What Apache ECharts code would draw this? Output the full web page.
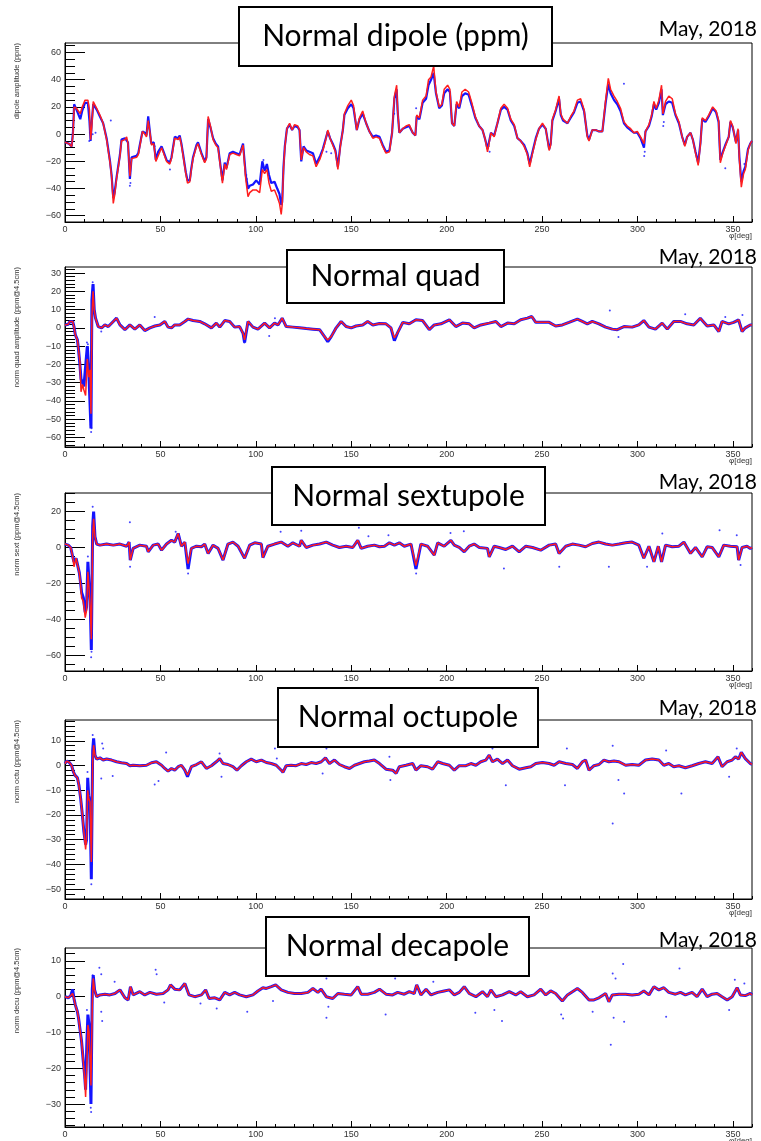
<!DOCTYPE html>
<html>
<head>
<meta charset="utf-8">
<script src="https://cdn.jsdelivr.net/npm/echarts@6/dist/echarts.min.js"></script>
<style>
html,body{margin:0;padding:0;background:#fff;}
#main{width:761px;height:1141px;}
</style>
</head>
<body>
<div id="main"></div>
<script>
// x ticks (deg)
var phiTicks = [0,50,100,150,200,250,300,350];

// ---- dipole ----
var dipPhi = [0,2,3.5,4.2,4.8,6,7,8,9,10.5,
  12,12.8,13.4,14,14.8,16.6,18.3,20,21.8,23.5,
  24.4,25.3,26,27,28.8,29.6,31.4,32.3,33,34,
  34.9,35.7,37.5,38.4,39.2,40.6,41.8,42.7,43.6,44.2,
  45,45.3,46.5,47.6,48.8,50.6,51.4,53.2,54.9,55.8,
  57.5,59.3,60.1,61,61.9,63.3,64.2,65.4,66.2,67.1,
  68.9,69.7,71.5,73.2,74.1,75,75.6,76.2,77.6,79,
  80.2,81,82.5,83.7,84.6,86.3,88,89.8,91.5,93.3,
  94.1,94.7,95.9,96.8,98.5,100.2,102,103.4,104.6,105.8,
  106.9,108.1,109.8,111.2,112.4,113.3,113.8,114.5,115.2,116.3,
  117.7,119,120.3,122,122.9,123.8,125,126.4,128.1,129.9,
  131.6,132.5,133.7,135.1,136.5,137.7,138.9,140.3,141.7,143,
  144.2,145.6,146.4,148.2,150,151.2,152.9,154.3,156,157.8,
  159.5,161.3,163,164.8,166.5,168.2,170,171.4,172.6,173.8,
  174.3,175.2,177,178.7,180.4,182.2,183.6,184.3,185.7,187.4,
  189.2,190.5,191.8,193.2,194.4,196.1,197.5,198.7,200.5,201.7,
  202.8,204,205.2,206.6,208,209.7,211.5,213.2,215,217,
  218.8,220.2,221.4,223.2,224.9,226.6,228.4,230.1,231.9,233.6,
  235.4,237.1,238.8,240.6,242.3,243.5,245,246.7,248.4,250.2,
  251.9,253.7,254.5,255.4,257.1,258.9,259.8,261,263.3,265,
  266.7,268.5,270.2,272,273.7,274.6,276.3,278.1,279.8,281.6,
  283.3,284.7,285.9,287.7,289.4,291.1,292.9,294.6,296.4,298.1,
  299.9,301.6,303.4,304.2,306,307.4,308.6,309.8,311.2,312.6,
  313.3,314.7,316.4,318.2,319.9,321.7,323.4,324.8,326,327.8,
  329,330.4,331.8,333,333.9,335.6,337.3,339.4,341.2,342.5,
  343.4,344.7,346,347.8,348.7,349.9,351.6,352.7,353.4,354.4,
  355.6,356.5,357.9,359.1,360];
var dipRed = [-6,-7,-9,0,20,19,20,15,20,25,
  25,18,-4,5,24,19,14,8,-4,-20,
  -31,-51,-45,-33,-16,-5,-4,-2,-7,-31,
  -18,-19,-17,-15,-9,2,0,-2,10,11,
  -4,-8,-7,-20,-16,-10,-13,-20,-22,-18,
  -3,-4,-2,-8,-16,-29,-36,-35,-26,-18,
  -9,-7,-15,-21,-18,13,14,6,-4,-8,
  -10,-19,-36,-22,-26,-15,-14,-15,-16,-8,
  -9,-33,-46,-43,-41,-41,-43,-26,-29,-26,
  -36,-42,-41,-46,-51,-59,-52,-26,-10,4,
  8,3,7,6,3,-19,-10,-13,-15,-16,
  -24,-24,-18,-12,-5,3,-3,-8,-13,-26,
  -10,3,15,21,25,21,3,12,17,8,
  2,-3,-2,-3,-9,-14,-13,1,28,36,
  18,1,4,6,7,1,-1,14,12,25,
  28,40,42,50,31,20,22,33,36,33,
  8,6,24,20,31,33,31,23,13,6,
  3,-4,-13,1,-2,8,19,22,19,11,
  7,-3,-5,-9,-15,-24,-14,-4,4,8,
  4,-12,-8,11,18,28,15,11,8,13,
  17,25,26,18,-2,-5,3,3,2,2,
  25,41,33,28,24,19,9,6,4,1,
  2,-2,-7,2,7,14,24,19,25,36,
  15,24,28,26,15,9,-2,-9,-2,1,
  -4,-14,-23,-7,12,10,14,20,17,10,
  -21,-14,-9,-2,10,6,-7,4,-19,-39,
  -29,-26,-12,-7,-5];
var dipBlue = [-6,-7,-9,2,22,18,18,11,17,23,
  23,10,-5,8,22,18,13,8,-3,-19,
  -30,-47,-43,-32,-15,-4,-3,-2,-6,-33,
  -17,-17,-16,-14,-8,2,1,-1,13,13,
  -5,-7,-6,-19,-13,-9,-12,-19,-21,-17,
  -2,-3,-1,-7,-15,-28,-34,-34,-25,-17,
  -8,-6,-14,-20,-17,11,12,5,-3,-7,
  -9,-18,-34,-21,-25,-14,-13,-14,-15,-7,
  -8,-30,-40,-38,-37,-34,-37,-20,-27,-22,
  -30,-36,-35,-40,-44,-52,-50,-24,-9,4,
  7,3,6,5,3,-20,-9,-12,-13,-14,
  -22,-22,-16,-11,-4,2,-3,-7,-12,-24,
  -9,3,14,19,22,19,3,11,15,8,
  2,-2,-1,-2,-8,-13,-12,1,26,33,
  17,1,4,5,6,1,-1,13,11,23,
  26,36,40,45,30,19,21,30,33,31,
  8,6,22,19,28,30,29,21,12,6,
  3,-4,-11,1,-1,8,18,20,18,10,
  6,-3,-5,-8,-14,-22,-13,-3,4,7,
  4,-11,-7,10,17,26,14,10,8,12,
  16,23,24,17,-1,-4,3,3,2,2,
  23,37,30,25,22,17,8,5,3,1,
  1,-3,-10,2,6,13,22,18,23,33,
  14,22,24,23,14,8,-2,-8,-2,1,
  -4,-13,-21,-6,11,9,13,19,16,9,
  -19,-13,-8,-2,9,5,-6,3,-17,-35,
  -27,-24,-11,-7,-5];
var dipStray = [[12.7,-5],[13,1],[14.5,0],[16,1],[24,10],[34,-38],[34.3,-36],[47,-9],[55,-26],
  [95,-30],[95.3,-33],[104,-19],[137,-13],[139.5,-14],[172.5,15],[184,19],[222,-9],[222.5,-13],
  [292.9,37],[303.5,-16],[303.8,-13],[313.5,6],[313.8,9],[346,-25],[356,-22]];

// ---- quad ----
var quadPhi = [0,0.9,1.7,2.6,4,4.7,5.4,6.5,7.1,7.8,
  8.4,9.2,9.9,10.8,11.7,12.4,13.1,13.6,14.1,14.7,
  15.3,16,17.4,19.2,20.9,22.7,25.3,27,28.8,31.4,
  34,36.6,39.2,41.8,44.5,47.1,49.7,52.3,54,55.8,
  57.5,60.1,62.8,64.5,67.1,70.6,73.2,76.7,79.3,81.1,
  83.7,86.3,88.9,91.5,93.3,94.1,95.9,98.5,101.1,104.6,
  107.2,109.8,111.6,113.8,115.9,119.4,122.9,126.4,129.9,133.4,
  136,137.7,139.5,142.1,144.7,147.3,150,152.5,156,158.6,
  161.3,164.8,168.2,170.8,172.6,174.3,177,180.4,183.9,187.4,
  190.9,193.5,197,201.4,204.8,208.3,211.8,214.4,217.9,222.3,
  225.8,228.4,231.9,235.4,238.8,242.3,244.6,246.7,250.2,253.7,
  257.1,260.6,264.1,268.5,271.1,273.7,276.3,279.8,283.3,286.8,
  289.4,292.9,297.2,300.7,303.3,306,309.4,312.9,315.6,319,
  322.5,326,329.5,332.9,336.5,340,342.6,344.3,347.8,350.4,
  353,354.8,356.5,359.1,360];
var quadRed = [1.6,1,2,3.5,3.5,0.7,-3.8,-6.6,-12,-18.5,
  -35,-31,-34,-37,-17,-27,-23,-47,6,20,
  10,5.3,0.7,0,1.6,0.7,3.5,5.3,1.6,-1,
  1.6,-0.7,1.6,-1.5,0,1,1.6,3.5,0.4,0,
  1.6,1.6,3.5,4.8,4,3.5,2.2,0,2.6,0.4,
  4,3.5,0.4,0.7,-3,-6.6,3.5,0.4,-0.7,2.6,
  0,2.6,1.6,5.3,0.7,0.4,0,-0.4,-0.7,-1,
  -4.8,-6.6,-4.8,0,3.5,0.7,0,1,1.6,3.5,
  1.6,2.4,2.2,0,-5.5,-2.6,3,2.2,4.4,4,
  -1,1.6,2.2,4.4,0.7,2.6,2.2,0,1.6,2.6,
  3.5,0.7,2.6,2.2,4.4,5.3,6.2,3,3,3,
  1,1.6,3,4.8,3.5,2.2,3.5,2.2,0.4,-0.7,
  -1,0.7,0.4,1.6,4,0.4,-0.7,2.6,-0.7,3.5,
  3.5,2.2,1.6,5.3,1,1.6,-2,3.5,2.2,3,
  4.4,-2,0,1.6,1.5];
var quadBlue = [1.6,1,2,3.5,3.5,0.7,-3.8,-6.6,-12,-20,
  -28,-29,-32,-33,-10,-22,-22,-55,15,24,
  10,5.3,0.7,0,1.6,0.7,3.5,5.3,1.6,-1,
  1.6,-0.7,1.6,-1.5,0,1,1.6,3.5,0.4,0,
  1.6,1.6,3.5,4.8,4,3.5,2.2,0,2.6,0.4,
  4,3.5,0.4,0.7,-3,-8,3.5,0.4,-0.7,2.6,
  0,2.6,1.6,5.3,0.7,0.4,0,-0.4,-0.7,-1,
  -4.8,-7.5,-4.8,0,3.5,0.7,0,1,1.6,3.5,
  1.6,2.4,2.2,0,-7,-2.6,3,2.2,4.4,4,
  -1,1.6,2.2,4.4,0.7,2.6,2.2,0,1.6,2.6,
  3.5,0.7,2.6,2.2,4.4,5.3,6.2,3,3,3,
  1,1.6,3,4.8,3.5,2.2,3.5,2.2,0.4,-0.7,
  -1,0.7,0.4,1.6,4,0.4,-0.7,2.6,-0.7,3.5,
  3.5,2.2,1.6,5.3,1,1.6,-2,3.5,2.2,3,
  4.4,-2,0,1.6,1.5];
var quadStray = [[11.5,-8],[11.8,-12],[12,-9],[13.4,-50],[13.5,-53],[13.7,-57],[13.9,-55],[14.5,25],[14.6,23],
  [19,-2],[47,6],[94,-8],[107,-4.4],[110,5.3],[285.5,9.5],[290,-5],[325,7.5],[346,6],[355,7]];

// ---- sextupole ----
var sextPhi = [0,1.7,3,4,4.7,5.8,6.6,7.5,8.2,8.7,
  9.6,10.6,11.3,12,12.6,13.2,13.8,14.5,15,15.7,
  16.6,18.3,21.8,25.3,28.8,32.3,33.6,34.2,35.7,39.2,
  42.7,43.6,46.2,48.8,50.6,53.2,55.8,57.5,59.3,61,
  62.8,64.5,66.2,68.9,71.5,73.2,75,77.6,80.2,82.8,
  85.4,88,90.7,94.1,96.8,99.4,102.9,103.7,106.3,109.8,
  113.3,116.8,119.4,122.9,123.8,126.4,129.9,133.4,136.9,140.3,
  143.8,147.3,150.8,153.4,155.2,158.6,162.1,164.8,167.4,170,
  172.6,175.2,177.8,181.3,183.9,186.5,190,193.5,195.3,198.7,
  202.2,204,206.6,209.2,211.8,214.4,217.1,221.4,222.3,224.9,
  227.5,231,234.5,238,241.5,245,249.3,253.7,257.1,258.9,
  262.4,265.9,269.4,272.8,276.3,279.8,283.3,286.8,290.3,293.8,
  297.2,300.7,303.3,306,308.6,310.9,312.6,314.7,318.2,321.7,
  324.3,327.8,330.4,333.9,336.5,339.1,342.6,345.2,348.7,352.2,
  353,354.8,357.4,359.1,360];
var sextRed = [1.9,1.3,0,-5,-10.7,-6,-6.7,-14,-21,-28,
  -30,-39,-35,-13.5,-22.8,-33,-51,6,16,6,
  1.9,1.3,1.9,1.3,1.9,0.7,3,-7,-0.5,1.3,
  0.7,-2.4,1.3,1.9,-1.5,1.9,4,3,7.8,0.7,
  3,-9,-0.5,0.7,0.4,1.9,-3.3,1.3,-0.5,-7,
  1.9,3,0.7,-6,1.3,2.6,1.9,-5.6,0.7,1.9,
  3,0.7,2.6,0.7,4,0,1.3,1.9,3,1.3,
  0,0.7,0,4,-0.5,0.7,1.3,0.4,0.7,2.6,
  1.3,2.6,0.7,1.9,-10,1.9,0.7,-4.3,2.6,0.7,
  4,1.3,0,-2.4,0.7,1.9,0,-0.5,-5.2,0.7,
  0,-1.1,0.7,-2.4,0.7,0,-1.5,1.3,1.9,-3.3,
  0.7,1.9,1.3,0.4,2.2,3,1.9,1.3,1.9,2.6,
  3,1.3,-6,0.7,-8,0.7,-8,1.3,0.4,0.7,
  3,-3.3,0,-5.2,0.4,0,-5.2,1.3,0.7,0.4,
  -7,0,0.7,-0.5,0];
var sextBlue = [1.9,1.3,0,-5,-8,-6,-6.7,-14,-20,-25,
  -28,-36,-33,-8,-20,-30,-57,12,20,6,
  1.9,1.3,1.9,1.3,1.9,0.7,3,-7,-0.5,1.3,
  0.7,-2.4,1.3,1.9,-1.5,1.9,4,3,7.8,0.7,
  3,-12,-0.5,0.7,0.4,1.9,-3.3,1.3,-0.5,-7,
  1.9,3,0.7,-6,1.3,2.6,1.9,-5.6,0.7,1.9,
  3,0.7,2.6,0.7,4,0,1.3,1.9,3,1.3,
  0,0.7,0,4,-0.5,0.7,1.3,0.4,0.7,2.6,
  1.3,2.6,0.7,1.9,-12,1.9,0.7,-4.3,2.6,0.7,
  4,1.3,0,-2.4,0.7,1.9,0,-0.5,-5.2,0.7,
  0,-1.1,0.7,-2.4,0.7,0,-1.5,1.3,1.9,-3.3,
  0.7,1.9,1.3,0.4,2.2,3,1.9,1.3,1.9,2.6,
  3,1.3,-6,0.7,-8,0.7,-8,1.3,0.4,0.7,
  3,-3.3,0,-5.2,0.4,0,-5.2,1.3,0.7,0.4,
  -7,0,0.7,-0.5,0];
var sextStray = [[12,-5],[13.7,-61],[13.9,-58],[14.5,22.6],[34,14],[34.1,-10.7],[58,8.7],[64.5,-14.5],
  [113,8.7],[123.8,9.3],[154,11],[159,6.3],[169.5,6.8],[184,-14.5],[202,8],[209,9],[230,-11.7],
  [259,-10.7],[285,-10.7],[305,-10.7],[313,7.8],[343,9.6],[352,6.8],[354,-9.8]];

// ---- octupole ----
var octPhi = [0,0.9,2.3,3.5,4.4,5.2,6.5,7.3,8.2,9.1,
  9.9,10.8,11.3,11.9,12.4,13.1,13.8,14.5,15,15.7,
  16.6,18.3,20,21.8,24.4,27,29.6,32.3,34,35.7,
  39.2,42.7,45.3,47.9,50.6,52.3,54,55.8,57.5,59.3,
  61,62.8,64.2,66.2,68.9,71.5,74.1,76.7,79.3,81.1,
  82.8,85.4,88,90.1,92.4,95,97.6,100.2,102.9,105.5,
  108.1,110.7,113.3,114.2,115.9,118.5,121.1,123.8,126.4,129,
  131.6,134.3,136.5,138.6,141.2,143.8,146.4,149.1,151.7,154.3,
  156.9,159.5,162.1,164.8,168.2,171.7,173.5,175.2,178.7,182.2,
  183.9,186.5,190,192.6,195.3,197.9,201.4,204,206.6,210.1,
  212.7,215.3,217.9,220.5,222.3,224,226.6,229.3,231.9,234.5,
  238,241.5,244.1,246.7,250.2,253.7,256.3,258.9,262.4,265.9,
  268.5,271.1,272.8,274.6,277.2,279.8,282.4,285,287.7,290.3,
  293.8,297.2,300.7,304.2,307.7,311.2,313.8,316.4,319,321.7,
  325.1,328.6,332.1,335.6,339.1,342.2,344.3,347,349.6,351.3,
  353,354.4,356.5,359.1,360];
var octRed = [0.8,1.8,1.2,-0.1,-2.6,-3.9,-5,-8,-13.3,-20,
  -26.8,-34,-29.5,-10,-13.3,-14.7,-39,1.5,8.2,4.2,
  2.6,3.1,2.2,2.6,2.2,1.5,1.1,0.8,-0.1,0.1,
  -0.1,0.1,1.1,1.5,0.1,-1.2,-2.3,-1.2,-1.9,-0.5,
  0.1,-1.9,-3.9,-0.5,0.4,1.5,-1.2,-0.1,1.5,2.8,
  0.8,0.4,-0.5,-1.9,-0.1,1.5,2.6,1.5,2.2,1.2,
  0.8,0.1,-1.9,-2.8,-0.1,0.1,-0.1,0.8,0.4,1.2,
  0.8,1.5,3.1,0.8,2.2,0.4,-0.5,-1.2,0.1,0.8,
  1.5,1.8,2.2,0.8,-1.5,-1.9,-3.2,-0.5,0.1,0.8,
  -1.9,-0.1,-0.5,-1.5,1.5,0.8,0.1,-1.9,-0.1,-0.1,
  0.8,0.1,1.5,2.2,4.2,1.5,2.6,0.8,2.2,-0.1,
  -1.5,-0.9,-0.5,0.8,1.2,0.8,0.1,1.5,0.8,0.4,
  -1.2,1.5,2.2,-1.9,-0.1,0.4,2.2,1.5,1.8,1.5,
  0.1,0.4,0.1,2.2,2.6,2.2,0.1,0.8,-0.5,-0.1,
  -0.9,-0.1,0.8,1.5,0.8,3.5,-0.5,1.5,2.2,3.5,
  2.6,5.3,2.8,0.8,0.5];
var octBlue = [0.8,1.8,1.2,-0.1,-2.6,-3.9,-5,-8,-13.3,-20,
  -26.8,-32,-30,-5,-12,-15,-46,6,11,4.2,
  2.6,3.1,2.2,2.6,2.2,1.5,1.1,0.8,-0.1,0.1,
  -0.1,0.1,1.1,1.5,0.1,-1.2,-2.3,-1.2,-1.9,-0.5,
  0.1,-1.9,-4.5,-0.5,0.4,1.5,-1.2,-0.1,1.5,2.8,
  0.8,0.4,-0.5,-1.9,-0.1,1.5,2.6,1.5,2.2,1.2,
  0.8,0.1,-1.9,-2.8,-0.1,0.1,-0.1,0.8,0.4,1.2,
  0.8,1.5,3.1,0.8,2.2,0.4,-0.5,-1.2,0.1,0.8,
  1.5,1.8,2.2,0.8,-1.5,-1.9,-3.2,-0.5,0.1,0.8,
  -1.9,-0.1,-0.5,-1.5,1.5,0.8,0.1,-1.9,-0.1,-0.1,
  0.8,0.1,1.5,2.2,4.2,1.5,2.6,0.8,2.2,-0.1,
  -1.5,-0.9,-0.5,0.8,1.2,0.8,0.1,1.5,0.8,0.4,
  -1.2,1.5,2.2,-1.9,-0.1,0.4,2.2,1.5,1.8,1.5,
  0.1,0.4,0.1,2.2,2.6,2.2,0.1,0.8,-0.5,-0.1,
  -0.9,-0.1,0.8,1.5,0.8,3.5,-0.5,1.5,2.2,3.5,
  2.6,5.3,2.8,0.8,0.5];
var octStray = [[11.8,-2.6],[13.6,-43],[13.8,-48],[14.5,12.3],[19,-5.3],[19.5,8.9],[20,6.9],[25,-4.2],
  [47,-7.7],[49,-6.3],[53,5.3],[81,4.9],[82,-4.6],[110,6.9],[111,2.8],[135,-3.2],[137,6.9],
  [170,3.5],[170.5,-5.9],[224,6.9],[231,-8],[262,-8],[263,6.9],[287,8],[287,-23.5],[290,-5.9],
  [293,-11.3],[315,6.1],[323,-11.3],[348,-4.6],[352,6.9]];

// ---- decapole ----
var decPhi = [0,1.7,3,4,4.7,5.4,6.5,7.1,7.8,8.7,
  9.6,10.3,10.8,11.5,12,12.6,13.1,13.6,14.3,14.8,
  15.5,16.6,18.3,20.9,23.5,26.2,28.8,31.4,33.1,34.3,
  35.7,39.2,41.8,44.5,47.9,51.4,54,55.3,57.5,60.1,
  62.8,63.6,65,68,71.5,73.7,75.5,78.5,81.1,83.7,
  86.3,88.9,91.5,95,98.5,101.1,103.7,105.5,108.1,110.4,
  113.3,116.8,120.3,123.8,127.3,129.9,132.5,134.2,136.9,140.3,
  143,146.4,150,153.4,155.2,158.6,162.1,164.8,168.2,171.7,
  174.3,177.8,180.4,183,184.3,186.5,189.2,191.8,195.3,198.7,
  201.4,204,206.6,209.2,211.8,215.3,218.8,221.4,223.2,225.8,
  229.3,232.8,236.2,238.8,242.3,245.8,249.3,251.9,254.5,257.1,
  260.6,263.3,265.9,268.5,271.1,274.6,277.2,279.8,283.3,285,
  286.8,290.3,293.8,297.2,300.7,303.3,306,308.6,311.2,313.8,
  316.4,319.9,322.5,325.1,328.6,331.2,333.9,336.5,339.1,341.7,
  344.3,347,349.6,352.2,353.9,356.5,359.1,360];
var decRed = [0,-0.3,0.3,0.9,-0.5,-2.3,-4.2,-6,-8.9,-12.6,
  -18.2,-22.9,-28,-18.2,-7.9,-9.8,-9.3,-24.8,-2.3,5.1,
  1.9,0,0.5,0.7,0.5,0.9,1.9,-0.3,-0.9,2.8,
  0.5,1.4,0.5,1.2,0.7,0.9,1.9,3.3,2.1,1.9,
  3.7,4.2,0.5,0,0.5,1.9,-0.5,-0.3,-0.9,1.2,
  0.5,1.2,0.5,0,0.5,1.6,2.5,2.3,2.8,3.3,
  1.9,1.2,0.9,0.9,1.2,2.3,1.2,2.1,0,-0.5,
  0.9,0.7,0.5,2.8,0.7,0.7,1.2,2.1,0.7,0.5,
  1.2,0.7,1.4,0.9,3.3,0.5,2.1,0.5,1.2,1.6,
  1.9,0.5,1.2,2.8,0.9,0,1.4,0,1.9,0,
  0.5,1.4,0.5,1.4,0,0.5,2.1,0.5,1.6,0.9,
  -1.2,0.5,1.4,2.3,1.2,-0.9,-0.9,-0.3,0.9,-1.4,
  0.5,0.7,0.7,0.5,0.7,1.6,0.5,2.8,1.9,2.5,
  1.2,0.7,1.2,0.5,1.2,0,2.1,0,0.7,0.9,
  0,-0.9,0,2.5,0.5,0.3,0.9,0.5];
var decBlue = [0,-0.3,0.3,2,-0.5,-2.3,-4.2,-6,-8.9,-12.6,
  -18.2,-22,-26,-12,-5,-8,-8,-30,2,6,
  1.9,0,0.5,0.7,0.5,0.9,1.9,-0.3,-0.9,2.8,
  0.5,1.4,0.5,1.2,0.7,0.9,1.9,3.3,2.1,1.9,
  3.7,4.2,0.5,0,0.5,1.9,-0.5,-0.3,-0.9,1.2,
  0.5,1.2,0.5,0,0.5,1.6,2.5,2.3,2.8,3.3,
  1.9,1.2,0.9,0.9,1.2,2.3,1.2,2.1,0,-0.5,
  0.9,0.7,0.5,2.8,0.7,0.7,1.2,2.1,0.7,0.5,
  1.2,0.7,1.4,0.9,3.3,0.5,2.1,0.5,1.2,1.6,
  1.9,0.5,1.2,2.8,0.9,0,1.4,0,1.9,0,
  0.5,1.4,0.5,1.4,0,0.5,2.1,0.5,1.6,0.9,
  -1.2,0.5,1.4,2.3,1.2,-0.9,-0.9,-0.3,0.9,-1.4,
  0.5,0.7,0.7,0.5,0.7,1.6,0.5,2.8,1.9,2.5,
  1.2,0.7,1.2,0.5,1.2,0,2.1,0,0.7,0.9,
  0,-0.9,0,2.5,0.5,0.3,0.9,0.5];
var decStray = [[11.5,-3.7],[13.5,-31],[13.7,-32.2],[14.5,6],[18,8.1],[19,6.3],[19,-4.2],[19.5,-6.8],
  [26,4.2],[47.5,7.5],[48,6.3],[52,-1.6],[71,-1.9],[79.5,-3.3],[95.5,-4.2],[109,-1.2],[111,7],
  [137,5.1],[137,-5.9],[138,-2.8],[168,-5],[173,5.1],[193,4.2],[215,-4.5],[225,-3.7],[229,-6.8],
  [260,-5],[261,-6.1],[276.5,-4.2],[286,-13.4],[287,6.5],[287.5,-5.9],[288.5,5.1],[292.5,9.1],
  [293,-7],[315,-5.6],[322,7.9],[348,-3.7],[351,4.7],[356,3.7]];

// y tick labels per panel
var dipTicks = [-60,-40,-20,0,20,40,60];
var quadTicks = [-60,-50,-40,-30,-20,-10,0,10,20,30];
var sextTicks = [-60,-40,-20,0,20];
var octTicks = [-50,-40,-30,-20,-10,0,10];
var decTicks = [-30,-20,-10,0,10];

var panels = [
  {phi:dipPhi, red:dipRed, blue:dipBlue, stray:dipStray, ticks:dipTicks, minor:5, ymin:-64.6, ymax:67,
   top:43, height:179, ytitle:'dipole amplitude (ppm)', title:'Normal dipole (ppm)', box:[239,7,313,59], dateY:29, bw:2.2},
  {phi:quadPhi, red:quadRed, blue:quadBlue, stray:quadStray, ticks:quadTicks, minor:2, ymin:-65.2, ymax:33.3,
   top:267, height:180, ytitle:'norm quad amplitude (ppm@4.5cm)', title:'Normal quad', box:[287,250,217,53], dateY:257, bw:3},
  {phi:sextPhi, red:sextRed, blue:sextBlue, stray:sextStray, ticks:sextTicks, minor:5, ymin:-68.7, ymax:30.3,
   top:493, height:178, ytitle:'norm sext (ppm@4.5cm)', title:'Normal sextupole', box:[272,467,273,58], dateY:482, bw:3},
  {phi:octPhi, red:octRed, blue:octBlue, stray:octStray, ticks:octTicks, minor:2, ymin:-54, ymax:18.4,
   top:720, height:179, ytitle:'norm octu (ppm@4.5cm)', title:'Normal octupole', box:[278,688,260,59], dateY:708, bw:3},
  {phi:decPhi, red:decRed, blue:decBlue, stray:decStray, ticks:decTicks, minor:2, ymin:-36.4, ymax:13.6,
   top:948, height:179, ytitle:'norm decu (ppm@4.5cm)', title:'Normal decapole', box:[266,917,263,59], dateY:940, bw:3}
];

function pairs(xs, ys) {
  var out = [];
  for (var i = 0; i < xs.length && i < ys.length; i++) out.push([xs[i], ys[i]]);
  return out;
}
function minorList(lo, hi, step, skip) {
  var out = [];
  for (var v = Math.ceil(lo / step) * step; v <= hi; v += step) {
    if (Math.abs(v % skip) > 1e-6) out.push(Math.round(v * 10) / 10);
  }
  return out;
}
function minus(v) { return String(v).replace('-', '\u2212'); }

var dom = document.getElementById("main");
var myChart = echarts.init(dom);

var tickFont = {fontSize: 9, fontFamily: 'Liberation Sans', color: '#333'};
var option = {animation: false, backgroundColor: '#fff', grid: [], xAxis: [], yAxis: [], series: [], graphic: {elements: []}};

panels.forEach(function (p, i) {
  option.grid.push({left: 65, width: 687, top: p.top, height: p.height, show: true, borderColor: '#000', borderWidth: 1, backgroundColor: 'transparent'});
  // phi axis: major + minor
  option.xAxis.push({gridIndex: i, type: 'value', position: 'bottom', min: 0, max: 360,
    axisLine: {onZero: false, lineStyle: {color: '#000', width: 1}},
    axisTick: {inside: true, length: 6, customValues: phiTicks, lineStyle: {color: '#000'}},
    axisLabel: Object.assign({customValues: phiTicks, margin: 3}, tickFont),
    splitLine: {show: false}});
  option.xAxis.push({gridIndex: i, type: 'value', position: 'bottom', min: 0, max: 360,
    axisLine: {show: false, onZero: false},
    axisTick: {inside: true, length: 3, customValues: minorList(0, 360, 10, 50), lineStyle: {color: '#000'}},
    axisLabel: {show: false}, splitLine: {show: false}});
  // value axis: major + minor
  option.yAxis.push({gridIndex: i, type: 'value', position: 'left', min: p.ymin, max: p.ymax,
    axisLine: {show: true, onZero: false, lineStyle: {color: '#000', width: 1}},
    axisTick: {inside: true, length: 20, customValues: p.ticks, lineStyle: {color: '#000'}},
    axisLabel: Object.assign({customValues: p.ticks, margin: 4, formatter: minus}, tickFont),
    splitLine: {show: false}});
  option.yAxis.push({gridIndex: i, type: 'value', position: 'left', min: p.ymin, max: p.ymax,
    axisLine: {show: false, onZero: false},
    axisTick: {inside: true, length: 10, customValues: minorList(p.ymin, p.ymax, p.minor, p.ticks[1] - p.ticks[0]), lineStyle: {color: '#000'}},
    axisLabel: {show: false}, splitLine: {show: false}});

  option.series.push({type: 'line', xAxisIndex: 2 * i, yAxisIndex: 2 * i, data: pairs(p.phi, p.blue),
    showSymbol: false, silent: true, z: 2, lineStyle: {color: '#1414ff', width: p.bw}});
  option.series.push({type: 'scatter', xAxisIndex: 2 * i, yAxisIndex: 2 * i, data: p.stray,
    symbolSize: 2, silent: true, z: 2, itemStyle: {color: '#1414ff'}});
  option.series.push({type: 'line', xAxisIndex: 2 * i, yAxisIndex: 2 * i, data: pairs(p.phi, p.red),
    showSymbol: false, silent: true, z: 3, lineStyle: {color: '#ff1e1e', width: 1.5}});

  var els = option.graphic.elements;
  els.push({type: 'text', x: 17, y: p.top, rotation: Math.PI / 2, z: 10,
    style: {text: p.ytitle, fill: '#333', font: '7.5px "Liberation Sans"', align: 'right', verticalAlign: 'middle'}});
  els.push({type: 'text', x: 752, y: p.top + p.height + 14, z: 10,
    style: {text: '\u03c6[deg]', fill: '#333', font: '8px "Liberation Sans"', align: 'right', verticalAlign: 'middle'}});
  els.push({type: 'rect', z: 20, shape: {x: p.box[0], y: p.box[1], width: p.box[2], height: p.box[3]},
    style: {fill: '#fff', stroke: '#000', lineWidth: 2}});
  els.push({type: 'text', z: 21, x: p.box[0] + p.box[2] / 2, y: p.box[1] + p.box[3] / 2,
    style: {text: p.title, fill: '#000', font: '30px Lato', align: 'center', verticalAlign: 'middle'}});
  els.push({type: 'text', z: 21, x: 757, y: p.dateY,
    style: {text: 'May, 2018', fill: '#000', font: '21px Lato', align: 'right', verticalAlign: 'middle'}});
});

myChart.setOption(option);
</script>
</body>
</html>
